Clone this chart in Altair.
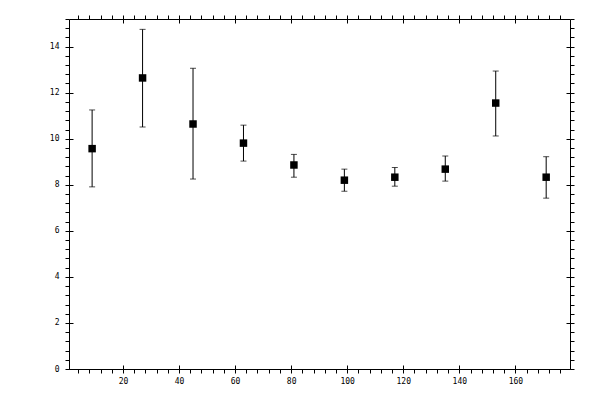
import altair as alt
import pandas as pd

# Data
xs = [9, 27, 45, 63, 81, 99, 117, 135, 153, 171]
ys = [9.57, 12.64, 10.64, 9.81, 8.86, 8.20, 8.33, 8.68, 11.55, 8.33]
hi = [11.25, 14.75, 13.06, 10.59, 9.32, 8.68, 8.75, 9.25, 12.94, 9.22]
lo = [7.91, 10.51, 8.25, 9.03, 8.33, 7.72, 7.94, 8.16, 10.12, 7.42]

x_minor = list(range(4, 180, 4))
x_major = list(range(20, 180, 20))
y_minor = [round(i * 0.4, 1) for i in range(39)]
y_major = list(range(0, 16, 2))

df = pd.DataFrame({"x": xs, "y": ys, "hi": hi, "lo": lo})

sx = alt.Scale(domain=[0.75, 179.5], nice=False, zero=False)
sy = alt.Scale(domain=[0, 15.2], nice=False, zero=False)

FONT = "DejaVu Sans Mono"

def outer_axis(orient, values, labels, label_expr=None, pad=3):
    kw = dict(orient=orient, values=values, tickSize=4, domain=True, grid=False,
              title=None, labelOverlap=False, labelFlush=False,
              domainColor="black", tickColor="black", domainWidth=1, tickWidth=1)
    if labels:
        kw.update(labels=True, labelExpr=label_expr, labelFont=FONT, labelFontSize=8,
                  labelColor="black", labelPadding=pad)
    else:
        kw.update(labels=False)
    return alt.Axis(**kw)

def inner_axis(orient, values):
    return alt.Axis(orient=orient, values=values, tickSize=4, offset=-4, domain=False,
                    grid=False, title=None, labels=False, tickColor="black", tickWidth=1)

def axis_layer(xaxis, yaxis):
    return alt.Chart(df).mark_point(opacity=0).encode(
        x=alt.X("x:Q", scale=sx, axis=xaxis),
        y=alt.Y("y:Q", scale=sy, axis=yaxis),
    )

xl = "datum.value % 20 == 0 ? format(datum.value, 'd') : ''"
yl = "datum.value % 2 == 0 ? format(datum.value, 'd') : ''"

l_outer_main = axis_layer(outer_axis("bottom", x_minor, True, xl, 4),
                          outer_axis("left", y_minor, True, yl, 6))
l_outer_opp = axis_layer(outer_axis("top", x_minor, False),
                         outer_axis("right", y_minor, False))
l_inner_main = axis_layer(inner_axis("bottom", x_major), inner_axis("left", y_major))
l_inner_opp = axis_layer(inner_axis("top", x_major), inner_axis("right", y_major))

rules = alt.Chart(df).mark_rule(color="black", strokeWidth=1).encode(
    x=alt.X("x:Q", scale=sx, axis=None),
    y=alt.Y("lo:Q", scale=sy, axis=None),
    y2="hi:Q",
)
caps_hi = alt.Chart(df).mark_tick(color="black", orient="horizontal", size=6, thickness=1).encode(
    x=alt.X("x:Q", scale=sx, axis=None),
    y=alt.Y("hi:Q", scale=sy, axis=None),
)
caps_lo = alt.Chart(df).mark_tick(color="black", orient="horizontal", size=6, thickness=1).encode(
    x=alt.X("x:Q", scale=sx, axis=None),
    y=alt.Y("lo:Q", scale=sy, axis=None),
)
squares = alt.Chart(df).mark_square(color="black", size=56, opacity=1, filled=True).encode(
    x=alt.X("x:Q", scale=sx, axis=None),
    y=alt.Y("y:Q", scale=sy, axis=None),
)

chart = alt.layer(
    l_outer_main, l_outer_opp, l_inner_main, l_inner_opp,
    rules, caps_hi, caps_lo, squares,
).resolve_scale(x="independent", y="independent").properties(
    width=501, height=350,
    autosize=alt.AutoSizeParams(type="none"),
    padding={"left": 61, "top": 11, "right": 22, "bottom": 23},
).configure_view(strokeWidth=0).configure(background="white")

chart.save("out.html", embed_options={"renderer": "svg", "actions": False})
